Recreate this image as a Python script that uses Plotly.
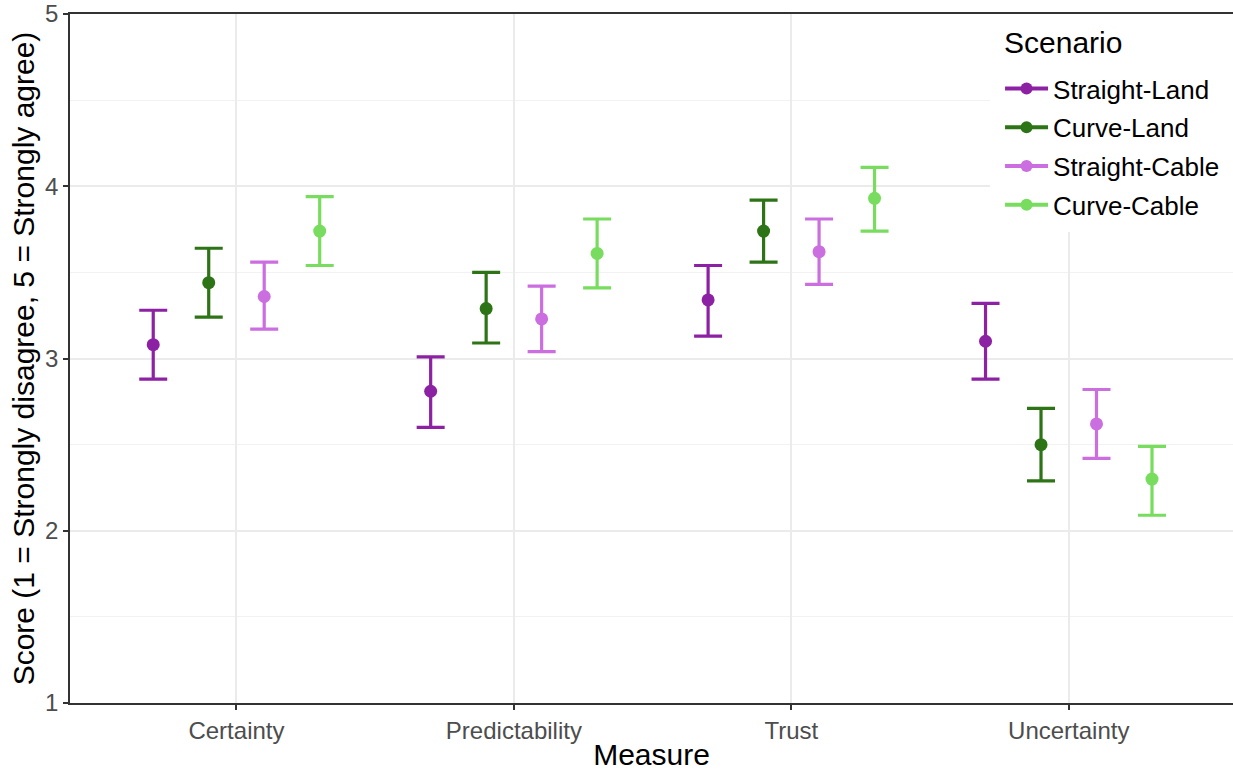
import plotly.graph_objects as go

measures = ["Certainty", "Predictability", "Trust", "Uncertainty"]
scenarios = ["Straight-Land", "Curve-Land", "Straight-Cable", "Curve-Cable"]
colors = ["#8D21A3", "#2C7415", "#CB6EDF", "#78DD5E"]

# mean scores per scenario, ordered as measures
straight_land = [3.08, 2.81, 3.34, 3.10]
curve_land = [3.44, 3.29, 3.74, 2.50]
straight_cable = [3.36, 3.23, 3.62, 2.62]
curve_cable = [3.74, 3.61, 3.93, 2.30]

# error bar upper / lower bounds
straight_land_hi = [3.28, 3.01, 3.54, 3.32]
straight_land_lo = [2.88, 2.60, 3.13, 2.88]
curve_land_hi = [3.64, 3.50, 3.92, 2.71]
curve_land_lo = [3.24, 3.09, 3.56, 2.29]
straight_cable_hi = [3.56, 3.42, 3.81, 2.82]
straight_cable_lo = [3.17, 3.04, 3.43, 2.42]
curve_cable_hi = [3.94, 3.81, 4.11, 2.49]
curve_cable_lo = [3.54, 3.41, 3.74, 2.09]

means = [straight_land, curve_land, straight_cable, curve_cable]
highs = [straight_land_hi, curve_land_hi, straight_cable_hi, curve_cable_hi]
lows = [straight_land_lo, curve_land_lo, straight_cable_lo, curve_cable_lo]

dodge = 0.8
n = len(scenarios)
fig = go.Figure()
for k, (name, col) in enumerate(zip(scenarios, colors)):
    off = -dodge / 2 + dodge / n * (k + 0.5)
    xs = [i + 1 + off for i in range(len(measures))]
    m = means[k]
    fig.add_trace(go.Scatter(
        x=xs, y=m, mode="markers",
        marker=dict(color=col, size=13),
        error_y=dict(type="data", symmetric=False,
                     array=[h - v for h, v in zip(highs[k], m)],
                     arrayminus=[v - l for v, l in zip(m, lows[k])],
                     color=col, thickness=3.2, width=14),
        showlegend=False, name=name,
    ))
    fig.add_trace(go.Scatter(
        x=[None], y=[None], mode="lines+markers", name=name,
        line=dict(color=col, width=4), marker=dict(color=col, size=12),
        legendgroup=name, showlegend=True,
    ))

# white legend background box (covers gridlines like the reference)
fig.add_shape(type="rect", xref="paper", yref="paper",
              x0=0.791, x1=1.0, y0=0.6836, y1=1.0,
              fillcolor="white", line=dict(width=0), layer="above")

fig.add_annotation(text="Scenario", xref="paper", yref="paper",
                   x=0.8014, y=0.958, xanchor="left", yanchor="middle",
                   showarrow=False, font=dict(size=30, color="black"))

fig.update_layout(
    width=1233, height=771,
    margin=dict(l=70, r=0, t=14, b=68),
    plot_bgcolor="white", paper_bgcolor="white",
    font=dict(family="Liberation Sans, Arial, sans-serif", color="black"),
    legend=dict(
        font=dict(size=26, color="black"),
        x=0.7997, xanchor="left", y=0.926, yanchor="top",
        bgcolor="rgba(255,255,255,0)", tracegroupgap=2,
        itemwidth=43,
    ),
    xaxis=dict(
        range=[0.4, 4.592], tickmode="array", tickvals=[1, 2, 3, 4], ticktext=measures,
        showgrid=True, gridcolor="#EBEBEB", gridwidth=2,
        showline=True, linecolor="#333333", linewidth=1.5, mirror=True,
        ticks="outside", ticklen=5, tickcolor="#333333", tickwidth=1.5,
        tickfont=dict(size=24, color="#4D4D4D"), zeroline=False,
        title=dict(text="Measure", font=dict(size=30, color="black"), standoff=4),
    ),
    yaxis=dict(
        range=[1, 5], tickvals=[1, 2, 3, 4, 5],
        showgrid=True, gridcolor="#EBEBEB", gridwidth=2,
        minor=dict(dtick=0.5, showgrid=True, gridcolor="#F2F2F2", gridwidth=1),
        showline=True, linecolor="#333333", linewidth=1.5,
        ticks="outside", ticklen=5, tickcolor="#333333", tickwidth=1.5,
        tickfont=dict(size=24, color="#4D4D4D"), zeroline=False,
        title=dict(text="Score (1 = Strongly disagree, 5 = Strongly agree)",
                   font=dict(size=30, color="black"), standoff=2),
    ),
)

fig.write_html("out.html")
